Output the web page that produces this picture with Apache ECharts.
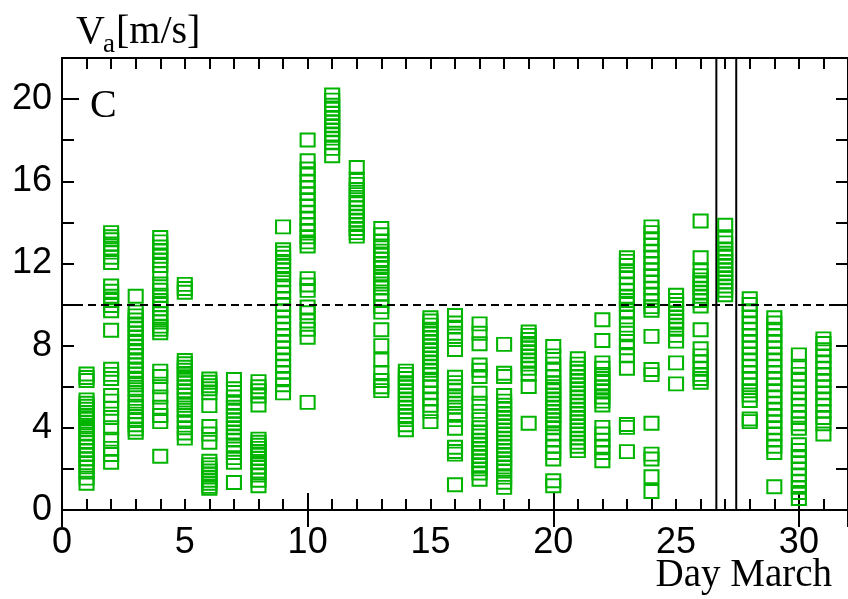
<!DOCTYPE html>
<html>
<head>
<meta charset="utf-8">
<script src="https://cdn.jsdelivr.net/npm/echarts@6/dist/echarts.min.js"></script>
<style>html,body{margin:0;padding:0;background:#fff}#c{width:848px;height:599px}</style>
</head>
<body>
<div id="c"></div>
<script>
// ---- data: wind speed Va [m/s] per day of March ----
const day01 = [6.62, 6.45, 6.3, 5.36, 5.2, 5.05, 4.9, 4.75, 4.6, 4.45, 4.25, 4.05, 3.9, 3.7, 3.5, 3.3, 3.1, 2.9, 2.7, 2.5, 2.3, 2.1, 1.85, 1.55, 1.3];
const day02 = [13.5, 13.3, 13.15, 12.95, 12.75, 12.55, 12.3, 12.05, 10.9, 10.65, 10.4, 10.2, 9.95, 9.7, 8.75, 6.85, 6.6, 6.4, 5.57, 5.3, 4.95, 4.5, 4.0, 3.45, 3.0, 2.7, 2.32];
const day03 = [10.4, 9.63, 9.45, 9.25, 9.05, 8.85, 8.6, 8.4, 8.15, 7.95, 7.7, 7.5, 7.25, 7.05, 6.8, 6.6, 6.35, 6.1, 5.85, 5.6, 5.3, 5.05, 4.8, 4.55, 4.35, 4.15, 3.95, 3.78];
const day04 = [13.26, 13.05, 12.8, 12.6, 12.35, 12.15, 11.9, 11.5, 11.0, 10.7, 10.45, 10.2, 10.0, 9.8, 9.55, 9.35, 9.15, 8.95, 8.8, 8.63, 6.76, 6.5, 6.0, 5.5, 5.0, 4.6, 4.3, 2.62];
const day05 = [10.98, 10.78, 10.6, 7.28, 7.12, 6.95, 6.8, 6.6, 6.4, 6.2, 6.0, 5.8, 5.6, 5.35, 5.1, 4.85, 4.6, 4.3, 4.0, 3.75, 3.5];
const day06 = [6.38, 6.22, 6.05, 5.9, 5.7, 5.08, 4.06, 3.7, 3.3, 2.37, 2.2, 2.05, 1.9, 1.75, 1.6, 1.45, 1.3, 1.15, 1.06];
const day07 = [6.35, 5.9, 5.5, 5.2, 5.0, 4.8, 4.6, 4.4, 4.2, 4.0, 3.8, 3.6, 3.4, 3.1, 2.8, 2.55, 2.32, 1.34];
const day08 = [6.25, 6.0, 5.8, 5.55, 5.11, 3.45, 3.3, 3.15, 3.0, 2.85, 2.7, 2.5, 2.3, 2.1, 1.9, 1.7, 1.45, 1.18];
const day09 = [13.78, 12.67, 12.5, 12.3, 12.1, 11.9, 11.7, 11.45, 11.2, 10.9, 10.6, 10.3, 10.0, 9.7, 9.4, 9.1, 8.8, 8.5, 8.2, 7.9, 7.6, 7.3, 7.0, 6.7, 6.4, 6.1, 5.7];
const day10 = [18.01, 17.0, 16.6, 16.3, 16.0, 15.7, 15.4, 15.1, 14.8, 14.5, 14.2, 13.9, 13.6, 13.3, 13.05, 12.85, 11.26, 10.95, 10.69, 9.88, 9.6, 9.2, 8.8, 8.41, 5.24];
const day11 = [20.2, 19.95, 19.7, 19.5, 19.3, 19.1, 18.9, 18.7, 18.5, 18.3, 18.1, 17.9, 17.6, 17.24];
const day12 = [16.67, 16.1, 15.85, 15.6, 15.35, 15.1, 14.9, 14.7, 14.5, 14.3, 14.1, 13.9, 13.7, 13.5, 13.33];
const day13 = [13.7, 13.4, 13.1, 12.85, 12.6, 12.4, 12.2, 12.0, 11.8, 11.5, 11.25, 11.0, 10.8, 10.5, 10.2, 9.9, 9.63, 8.77, 8.0, 7.3, 6.7, 6.3, 6.0, 5.81];
const day14 = [6.76, 6.6, 6.4, 6.2, 6.0, 5.8, 5.6, 5.4, 5.2, 5.0, 4.8, 4.6, 4.4, 4.15, 3.91];
const day15 = [9.36, 9.2, 9.0, 8.8, 8.6, 8.4, 8.2, 8.0, 7.8, 7.6, 7.4, 7.2, 7.0, 6.8, 6.6, 6.3, 6.0, 5.7, 5.4, 5.1, 4.8, 4.3];
const day16 = [9.47, 9.1, 8.9, 8.6, 8.3, 7.81, 6.46, 6.2, 6.0, 5.8, 5.5, 5.2, 5.0, 4.7, 4.4, 3.98, 3.05, 2.85, 2.72, 1.23];
const day17 = [9.06, 8.6, 8.09, 7.06, 6.8, 6.5, 5.68, 5.2, 4.8, 4.4, 4.0, 3.8, 3.6, 3.4, 3.2, 3.0, 2.8, 2.6, 2.4, 2.2, 2.0, 1.8, 1.5];
const day18 = [8.06, 6.66, 6.5, 5.57, 5.3, 5.1, 4.9, 4.7, 4.5, 4.3, 4.1, 3.9, 3.7, 3.5, 3.3, 3.1, 2.9, 2.7, 2.5, 2.3, 2.1, 1.9, 1.6, 1.35, 1.1];
const day19 = [8.66, 8.5, 8.3, 8.1, 7.9, 7.7, 7.5, 7.3, 7.1, 6.9, 6.6, 6.01, 4.22];
const day20 = [7.96, 7.5, 7.1, 6.8, 6.5, 6.2, 6.0, 5.8, 5.6, 5.4, 5.2, 5.0, 4.8, 4.6, 4.4, 4.2, 4.0, 3.7, 3.4, 3.1, 2.8, 2.48, 1.42, 1.18];
const day21 = [7.36, 7.1, 6.9, 6.7, 6.5, 6.3, 6.1, 5.9, 5.7, 5.5, 5.3, 5.1, 4.9, 4.7, 4.5, 4.3, 4.1, 3.9, 3.7, 3.5, 3.3, 3.1, 2.89];
const day22 = [9.26, 8.25, 7.16, 6.9, 6.6, 6.4, 6.2, 6.0, 5.8, 5.5, 5.3, 5.11, 4.02, 3.7, 3.4, 3.1, 2.8, 2.4];
const day23 = [12.28, 12.1, 11.9, 11.6, 11.3, 11.0, 10.7, 10.4, 10.2, 10.0, 9.7, 9.4, 9.0, 8.6, 8.2, 7.9, 7.5, 6.9, 4.16, 4.02, 2.84];
const day24 = [13.78, 13.5, 13.2, 12.9, 12.6, 12.3, 12.0, 11.7, 11.4, 11.1, 10.8, 10.5, 10.2, 9.9, 9.72, 8.45, 6.84, 6.59, 4.22, 2.72, 2.48, 1.62, 0.9];
const day25 = [10.45, 10.2, 10.0, 9.8, 9.6, 9.4, 9.2, 9.0, 8.8, 8.5, 8.22, 7.16, 6.14];
const day26 = [14.07, 12.28, 11.7, 11.4, 11.2, 11.0, 10.8, 10.6, 10.4, 10.2, 9.93, 8.77, 7.85, 7.5, 7.2, 6.9, 6.6, 6.4, 6.22];
const day27 = [13.86, 13.3, 13.0, 12.7, 12.5, 12.3, 12.1, 11.9, 11.7, 11.5, 11.3, 11.1, 10.9, 10.7, 10.48];
const day28 = [10.28, 10.0, 9.7, 9.4, 9.1, 8.8, 8.5, 8.2, 7.9, 7.6, 7.3, 7.0, 6.7, 6.4, 6.1, 5.8, 5.6, 5.33, 4.43, 4.3];
const day29 = [9.36, 9.1, 8.8, 8.5, 8.2, 7.9, 7.6, 7.3, 7.0, 6.7, 6.4, 6.1, 5.8, 5.5, 5.2, 4.9, 4.6, 4.3, 4.0, 3.7, 3.4, 3.1, 2.8, 1.13];
const day30 = [7.55, 7.0, 6.6, 6.3, 6.0, 5.7, 5.4, 5.1, 4.8, 4.5, 4.2, 3.98, 3.18, 2.9, 2.6, 2.3, 2.0, 1.7, 1.4, 1.1, 0.85, 0.56];
const day31 = [8.33, 8.1, 7.8, 7.5, 7.2, 6.9, 6.6, 6.3, 6.0, 5.7, 5.4, 5.1, 4.8, 4.5, 4.2, 3.7];

const days = [1,2,3,4,5,6,7,8,9,10,11,12,13,14,15,16,17,18,19,20,21,22,23,24,25,26,27,28,29,30,31];
const dayValues = [day01,day02,day03,day04,day05,day06,day07,day08,day09,day10,day11,day12,day13,day14,day15,day16,day17,day18,day19,day20,day21,day22,day23,day24,day25,day26,day27,day28,day29,day30,day31];
const thresholdValue = 10;            // dashed reference line
const highlightDays = [26.64, 27.45]; // boxed interval around day 27
const xRange = [0, 32];
const yRange = [0, 22];

const points = [];
days.forEach((d, i) => dayValues[i].forEach(v => points.push([d, v])));

const SANS = '"Liberation Sans", Arial, sans-serif';
const SERIF = '"Liberation Serif", "Times New Roman", serif';
const black = '#000';

function baseX(extra) {
  return Object.assign({
    type: 'value', min: xRange[0], max: xRange[1], interval: 1,
    axisLine: { show: false }, splitLine: { show: false },
    axisTick: { show: true, inside: true, length: 11, lineStyle: { color: black, width: 2 } },
    axisLabel: { show: false }
  }, extra);
}
function baseY(extra) {
  return Object.assign({
    type: 'value', min: yRange[0], max: yRange[1], interval: 2,
    axisLine: { show: false }, splitLine: { show: false },
    axisTick: { show: true, inside: true, length: 12, lineStyle: { color: black, width: 2 } },
    axisLabel: { show: false }
  }, extra);
}

const chart = echarts.init(document.getElementById('c'), null, { renderer: 'canvas' });
chart.setOption({
  animation: false,
  grid: { left: 62, top: 58, width: 788, height: 452, show: false },
  xAxis: [
    baseX({
      position: 'bottom',
      axisLine: { show: true, onZero: false, lineStyle: { color: black, width: 2 } },
      axisLabel: {
        show: true, margin: 15, color: black, fontFamily: SANS, fontSize: 36,
        showMaxLabel: false,
        formatter: v => (v % 5 === 0 && v <= 30) ? String(v) : ''
      }
    }),
    baseX({ position: 'bottom', interval: 10,
      axisTick: { show: true, inside: true, length: 17, lineStyle: { color: black, width: 2 } } }),
    baseX({ position: 'top',
      axisLine: { show: true, onZero: false, lineStyle: { color: black, width: 2 } } }),
    baseX({ position: 'top', interval: 10,
      axisTick: { show: true, inside: true, length: 17, lineStyle: { color: black, width: 2 } } })
  ],
  yAxis: [
    baseY({
      position: 'left',
      axisLine: { show: true, onZero: false, lineStyle: { color: black, width: 2 } },
      axisLabel: {
        show: true, margin: 10, color: black, fontFamily: SANS, fontSize: 36,
        formatter: v => (v % 4 === 0 && v <= 20) ? String(v) : ''
      }
    }),
    baseY({ position: 'left', interval: 10,
      axisTick: { show: true, inside: true, length: 17, lineStyle: { color: black, width: 2 } } }),
    baseY({ position: 'right',
      axisLine: { show: true, onZero: false, lineStyle: { color: black, width: 2 } } })
  ],
  series: [{
    type: 'scatter',
    xAxisIndex: 0, yAxisIndex: 0,
    symbol: 'rect',
    symbolSize: [14, 13],
    data: points,
    itemStyle: { color: 'rgba(0,0,0,0)', borderColor: '#00b400', borderWidth: 2, opacity: 1 },
    silent: true,
    markLine: {
      silent: true, symbol: 'none', animation: false,
      label: { show: false },
      lineStyle: { color: black, width: 2, type: [8, 5] },
      data: [{ yAxis: thresholdValue }]
    },
    markArea: {
      silent: true,
      itemStyle: { color: 'rgba(0,0,0,0)', borderColor: black, borderWidth: 2 },
      data: [[{ xAxis: highlightDays[0], yAxis: yRange[0] }, { xAxis: highlightDays[1], yAxis: yRange[1] }]]
    },
    z: 2
  }],
  graphic: [
    { type: 'text', style: { text: 'V', x: 76, y: 32, font: '40px ' + SERIF, fill: black, align: 'left', verticalAlign: 'middle' } },
    { type: 'text', style: { text: 'a', x: 103, y: 45, font: '27px ' + SERIF, fill: black, align: 'left', verticalAlign: 'middle' } },
    { type: 'text', style: { text: '[m/s]', x: 116, y: 32, font: '40px ' + SERIF, fill: black, align: 'left', verticalAlign: 'middle' } },
    { type: 'text', style: { text: 'C', x: 90, y: 106, font: '40px ' + SERIF, fill: black, align: 'left', verticalAlign: 'middle' } },
    { type: 'text', style: { text: 'Day March', x: 832, y: 576, font: '39px ' + SERIF, fill: black, align: 'right', verticalAlign: 'middle' } }
  ]
});
</script>
</body>
</html>
